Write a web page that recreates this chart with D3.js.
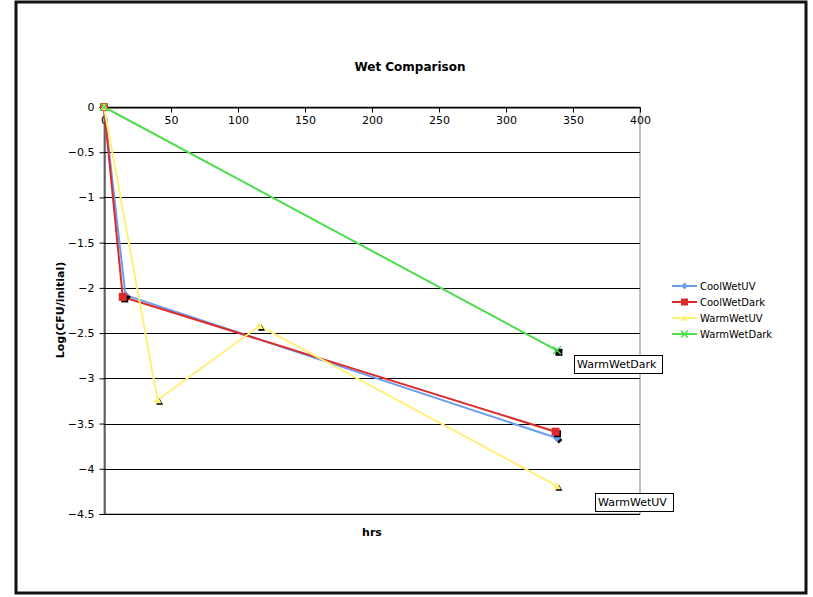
<!DOCTYPE html>
<html>
<head>
<meta charset="utf-8">
<script src="https://cdn.jsdelivr.net/npm/d3@7/dist/d3.min.js"></script>
<style>
  html, body { margin: 0; padding: 0; background: #fff; }
  text { font-family: Verdana, "DejaVu Sans", sans-serif; }
</style>
</head>
<body>
<svg id="chart" width="813" height="597"></svg>
<script>
// Survival data (hours vs log reduction)
const seriesNames = ["CoolWetUV", "CoolWetDark", "WarmWetUV", "WarmWetDark"];
const coolWetUV   = [[0, 0], [16, -2.08], [338, -3.66]];
const coolWetDark = [[0, 0], [14, -2.1], [337, -3.59]];
const warmWetUV   = [[0, 0], [40, -3.24], [116, -2.42], [338, -4.19]];
const warmWetDark = [[0, 0], [338, -2.69]];
const xTicks = [0, 50, 100, 150, 200, 250, 300, 350, 400];
const yTicks = [0, -0.5, -1, -1.5, -2, -2.5, -3, -3.5, -4, -4.5];
const colors = ["#6b9cf0", "#dd2b2b", "#fff07a", "#4ddd4d"];
const symbols = ["diamond", "square", "triangle", "cross"];

const svg = d3.select("#chart");

// Outer frame
svg.append("rect").attr("x", 16).attr("y", 2).attr("width", 790).attr("height", 591)
  .attr("fill", "#fff").attr("stroke", "#111").attr("stroke-width", 3);

const plotL = 104, plotR = 640, plotT = 107, plotB = 514;
const x = d3.scaleLinear().domain([0, 400]).range([plotL, plotR]);
const y = d3.scaleLinear().domain([0, -4.5]).range([plotT, plotB]);

// Plot area frame
svg.append("rect").attr("x", plotL).attr("y", plotT).attr("width", plotR - plotL).attr("height", plotB - plotT)
  .attr("fill", "#fff").attr("stroke", "#808080").attr("stroke-width", 1);

// Horizontal gridlines
svg.append("g").selectAll("line").data(yTicks).join("line")
  .attr("x1", plotL).attr("x2", plotR)
  .attr("y1", d => Math.round(y(d)) + 0.5).attr("y2", d => Math.round(y(d)) + 0.5)
  .attr("stroke", "#000").attr("stroke-width", 1);

// Y axis
const yAxis = svg.append("g").attr("transform", `translate(${plotL + 0.5},0)`)
  .call(d3.axisLeft(y).tickValues(yTicks).tickSize(5).tickPadding(5).tickFormat(d => d === 0 ? "0" : d3.format("")(d)));
yAxis.select(".domain").attr("stroke", "#000");
yAxis.selectAll("line").attr("stroke", "#000");
yAxis.selectAll("text").attr("font-size", 11).attr("fill", "#000")
  .style("font-family", "Verdana, 'DejaVu Sans', sans-serif");

// X axis sits at y = 0
const xAxis = svg.append("g").attr("transform", `translate(0,${Math.round(y(0)) + 0.5})`)
  .call(d3.axisBottom(x).tickValues(xTicks).tickSize(5).tickPadding(4).tickSizeOuter(0));
xAxis.select(".domain").attr("stroke", "#000");
xAxis.selectAll("line").attr("stroke", "#000");
xAxis.selectAll("text").attr("font-size", 11).attr("fill", "#000")
  .style("font-family", "Verdana, 'DejaVu Sans', sans-serif");

// Titles
svg.append("text").attr("x", 410).attr("y", 71).attr("text-anchor", "middle")
  .attr("font-size", 12).attr("font-weight", "bold").text("Wet Comparison");
svg.append("text").attr("x", 372).attr("y", 536).attr("text-anchor", "middle")
  .attr("font-size", 11).attr("font-weight", "bold").text("hrs");
svg.append("text").attr("transform", "translate(64,310) rotate(-90)").attr("text-anchor", "middle")
  .attr("font-size", 11).attr("font-weight", "bold").text("Log(CFU/initial)");

const allSeries = [coolWetUV, coolWetDark, warmWetUV, warmWetDark];
const line = d3.line().x(d => x(d[0])).y(d => y(d[1]));

function marker(g, kind, cx, cy, fill, s) {
  if (kind === "diamond") {
    g.append("path").attr("d", `M${cx},${cy - s}L${cx + s},${cy}L${cx},${cy + s}L${cx - s},${cy}Z`).attr("fill", fill);
  } else if (kind === "square") {
    g.append("rect").attr("x", cx - s).attr("y", cy - s).attr("width", 2 * s).attr("height", 2 * s).attr("fill", fill);
  } else if (kind === "triangle") {
    g.append("path").attr("d", `M${cx},${cy - s}L${cx + s},${cy + s * 0.8}L${cx - s},${cy + s * 0.8}Z`).attr("fill", fill);
  } else {
    g.append("path").attr("d", `M${cx - s},${cy - s}L${cx + s},${cy + s}M${cx - s},${cy + s}L${cx + s},${cy - s}`)
      .attr("stroke", fill).attr("stroke-width", 1.5);
  }
}

// Lines
allSeries.forEach((data, i) => {
  svg.append("path").datum(data).attr("d", line)
    .attr("fill", "none").attr("stroke", colors[i]).attr("stroke-width", 2);
});

// Markers with dark shadow
const mg = svg.append("g");
allSeries.forEach((data, i) => {
  data.forEach(d => {
    const cx = x(d[0]), cy = y(d[1]);
    if (d[0] !== 0) {
      const sh = symbols[i] === "cross" ? "square" : symbols[i];
      marker(mg, sh, cx + 2, cy + 2, "#000", 3.5);
    }
    marker(mg, symbols[i], cx, cy, colors[i], 4);
  });
});

// Point annotations
function callout(label, bx, by, bw, bh) {
  svg.append("rect").attr("x", bx + 0.5).attr("y", by + 0.5).attr("width", bw).attr("height", bh)
    .attr("fill", "#fff").attr("stroke", "#000").attr("stroke-width", 1);
  svg.append("text").attr("x", bx + 3).attr("y", by + bh - 5).attr("font-size", 11).text(label);
}
callout(seriesNames[3], 574, 355, 88, 18);
callout(seriesNames[2], 595, 493, 78, 18);

// Legend
const lg = svg.append("g").attr("transform", "translate(672,286)");
seriesNames.forEach((name, i) => {
  const row = lg.append("g").attr("transform", `translate(0,${i * 16})`);
  row.append("line").attr("x1", 0).attr("x2", 25).attr("y1", 0).attr("y2", 0)
    .attr("stroke", colors[i]).attr("stroke-width", 2);
  marker(row, symbols[i], 12.5, 0, colors[i], 3.5);
  row.append("text").attr("x", 28).attr("y", 4).attr("font-size", 10).text(name);
});
</script>
</body>
</html>
